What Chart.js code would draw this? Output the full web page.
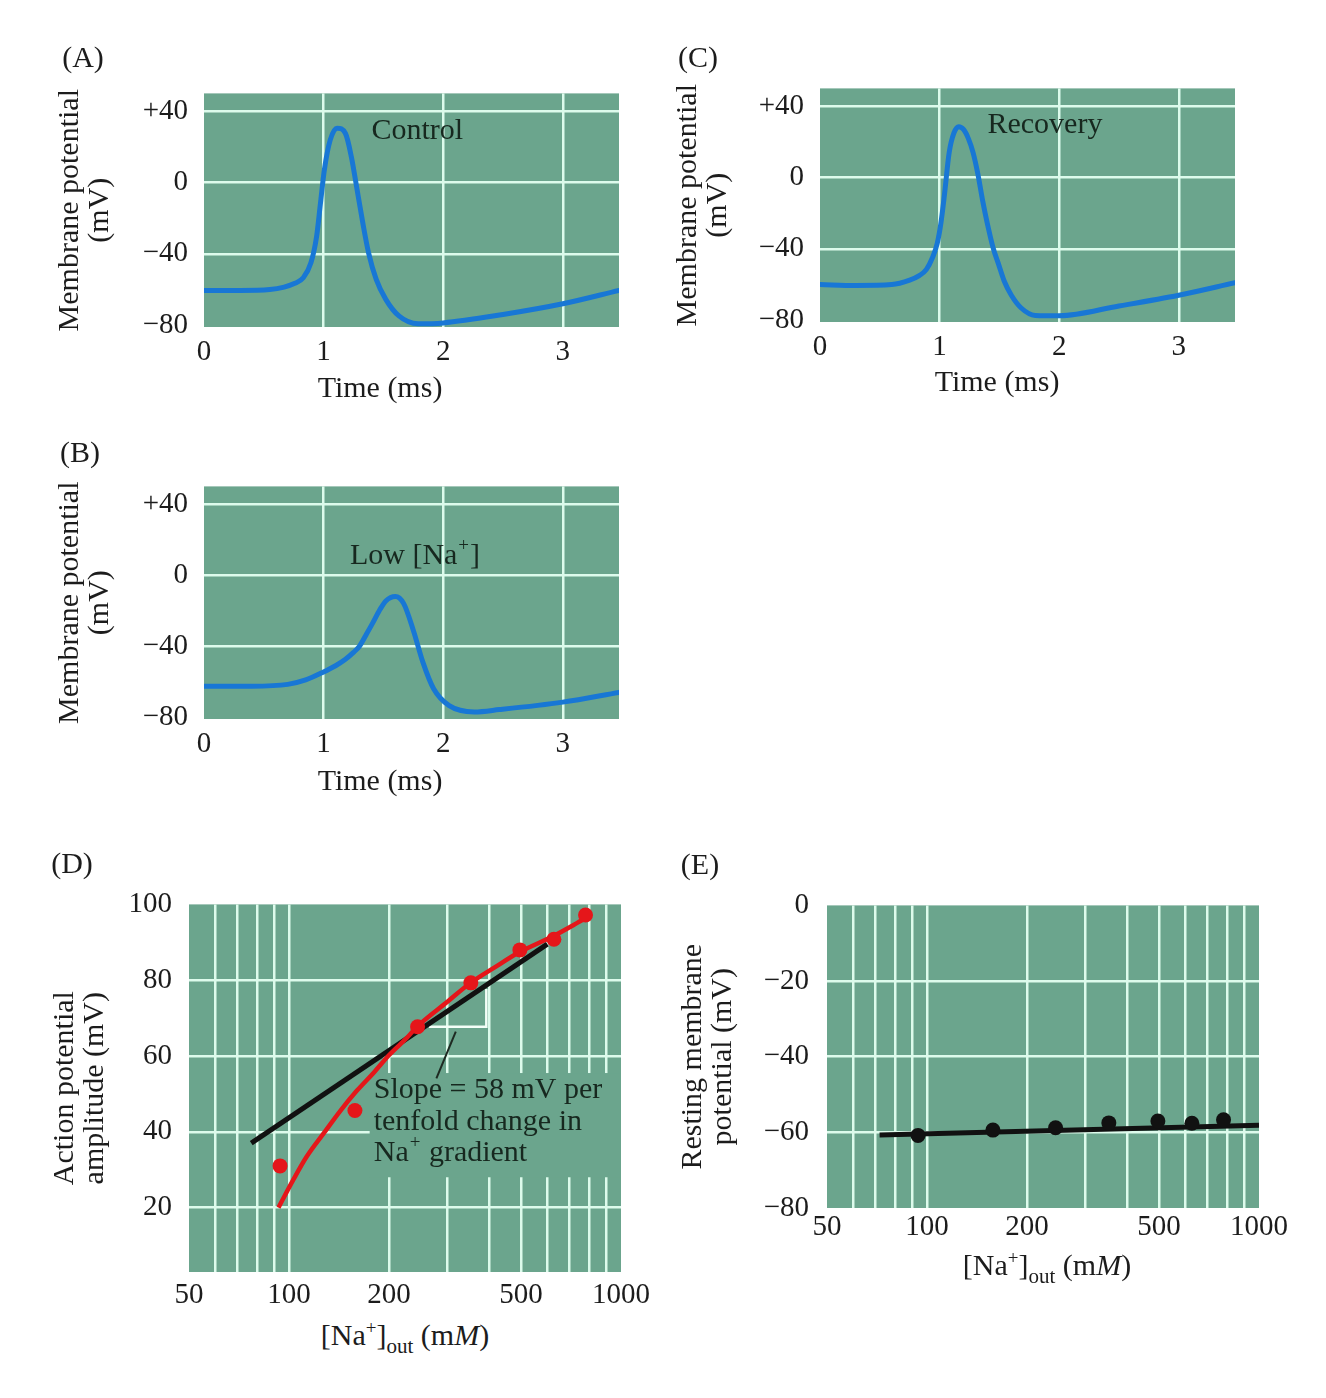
<!DOCTYPE html>
<html><head><meta charset="utf-8">
<script src="https://cdn.jsdelivr.net/npm/chart.js@4.4.1/dist/chart.umd.min.js"></script>
<style>
html,body{margin:0;padding:0;background:#ffffff;}
body{width:1326px;height:1398px;position:relative;overflow:hidden;font-family:"Liberation Serif","Times New Roman",serif;color:#1c1c1c;}
canvas{position:absolute;}
.t{position:absolute;font-size:30px;line-height:1;white-space:nowrap;transform:translate(-50%,-50%);}
.t sup{font-size:19px;vertical-align:0;position:relative;top:-11px;}
.t sub{font-size:21px;vertical-align:0;position:relative;top:8px;}
</style></head><body>

<canvas id="cA" width="610" height="370" style="left:40px;top:60px"></canvas>
<canvas id="cB" width="610" height="370" style="left:40px;top:453px"></canvas>
<canvas id="cC" width="610" height="370" style="left:656px;top:55px"></canvas>
<canvas id="cD" width="620" height="440" style="left:40px;top:870px"></canvas>
<canvas id="cE" width="640" height="380" style="left:660px;top:870px"></canvas>

<div class="t" style="left:83px;top:57px">(A)</div>
<div class="t" style="left:698px;top:57px">(C)</div>
<div class="t" style="left:80px;top:452px">(B)</div>
<div class="t" style="left:72px;top:863px">(D)</div>
<div class="t" style="left:700px;top:864px">(E)</div>

<div class="t" style="left:380px;top:387px">Time (ms)</div>
<div class="t" style="left:380px;top:780px">Time (ms)</div>
<div class="t" style="left:997px;top:381px">Time (ms)</div>
<div class="t" style="left:405px;top:1335px">[Na<sup>+</sup>]<sub>out</sub> (m<i>M</i>)</div>
<div class="t" style="left:1047px;top:1265px">[Na<sup>+</sup>]<sub>out</sub> (m<i>M</i>)</div>

<script>
// ---------------- data ----------------
const timeTicks = [0, 1, 2, 3];
const timeTickLabels = ['0', '1', '2', '3'];
const vmTicks = [-80, -40, 0, 40];
const vmTickLabels = ['\u221280', '\u221240', '0', '+40'];

// (A) Control
const timeControl = [0, 0.3, 0.55, 0.67, 0.76, 0.83, 0.894, 0.942, 0.974, 1.006, 1.055, 1.113, 1.183, 1.232, 1.28, 1.328, 1.376, 1.44, 1.52, 1.63, 1.79, 2.0, 2.5, 3.0, 3.47];
const vmControl   = [-60.5, -60.5, -60, -58.6, -56.5, -53.4, -45, -30, -11.5, 7, 23.8, 30.5, 27.5, 14.5, -4, -22.7, -39.4, -54.3, -65.5, -74.8, -79.2, -78.7, -74, -68, -60.5];

// (B) Low [Na+]
const timeLowNa = [0, 0.4, 0.7, 0.85, 1.0, 1.1, 1.18, 1.25, 1.3, 1.36, 1.41, 1.47, 1.52, 1.6, 1.67, 1.75, 1.83, 1.92, 2.05, 2.26, 2.47, 3.0, 3.47];
const vmLowNa   = [-62.5, -62.5, -61.5, -59, -54.5, -51, -47.5, -43.5, -40, -33, -27, -19.5, -14.5, -12, -16, -31, -49, -64, -73.5, -77, -75.7, -71.5, -66];

// (C) Recovery
const timeRecovery = [0, 0.3, 0.6, 0.75, 0.83, 0.89, 0.94, 0.98, 1.01, 1.04, 1.08, 1.12, 1.16, 1.2, 1.24, 1.28, 1.32, 1.36, 1.40, 1.45, 1.49, 1.54, 1.6, 1.68, 1.8, 2.0, 2.5, 3.0, 3.47];
const vmRecovery   = [-60, -60.5, -60, -57.5, -55, -51.5, -45, -37, -26, -10, 14, 25, 28.5, 27, 22, 14, 2, -13, -26, -40, -48, -58, -66, -73, -77.3, -77.5, -72, -66, -59];

// (D) and (E)
const naGridValues = [50, 60, 70, 80, 90, 100, 200, 300, 400, 500, 600, 700, 800, 900, 1000];
const naLabelValues = [50, 100, 200, 500, 1000];
const ampTicks = [20, 40, 60, 80, 100];
const restTicks = [-80, -60, -40, -20, 0];
const restTickLabels = ['\u221280', '\u221260', '\u221240', '\u221220', '0'];

const naConc = [94, 158, 244, 353, 496, 628, 782];
const apAmplitude = [31, 45.6, 67.7, 79.3, 88, 90.8, 97.2];
const restingPotential = [-60.8, -59.4, -58.8, -57.5, -57, -57.6, -56.7];

const apFitX = [77, 600];
const apFitY = [37, 89.5];
const apCurveX = [93, 103, 113, 127, 143, 160, 180, 201, 226, 243, 300, 351, 420, 492, 624, 770];
const apCurveY = [20, 27.3, 33.4, 39.5, 45.6, 50.8, 55.6, 60.4, 64.7, 67.7, 74.3, 79.2, 83.6, 87.3, 91.6, 96];
const slopeTriX = [264, 393, 393];
const slopeTriY = [67.7, 67.7, 77.7];
const pointerX = [318, 278];
const pointerY = [66.4, 54.1];
const noteBoxX = [175, 1000];
const noteBoxY = [28, 55.5];
const noteAnchorX = 180;
const noteLineY = [50.9, 42.5, 34.4];

const restFitX = [72, 1000];
const restFitY = [-60.7, -58.1];

// ---------------- styles ----------------
const FONT = '"Liberation Serif", "Times New Roman", serif';
const BG = '#6ba58d';
const GRID = '#ddfbec';
const INK = '#1c1c1c';
const NOTE = '#17281f';
const BLUE = '#1877d5';
const RED = '#e5161a';
const BLACK = '#111111';

function pts(xs, ys) { return xs.map((x, i) => ({x: x, y: ys[i]})); }

const bgPlugin = {
  id: 'plotBg',
  beforeDraw(chart) {
    const a = chart.chartArea, ctx = chart.ctx;
    ctx.save();
    ctx.fillStyle = BG;
    ctx.fillRect(a.left, a.top, a.right - a.left, a.bottom - a.top);
    ctx.restore();
  }
};

function drawParts(ctx, parts, px, py) {
  let x = px;
  parts.forEach(p => {
    if (p.sup) {
      ctx.font = '19px ' + FONT;
      ctx.fillText(p.t, x + 1, py - 10);
      x += ctx.measureText(p.t).width + 2;
    } else {
      ctx.font = '30px ' + FONT;
      ctx.fillText(p.t, x, py);
      x += ctx.measureText(p.t).width;
    }
  });
}

function gridColor(edges) {
  return c => (c.tick && edges.includes(c.tick.value)) ? 'rgba(0,0,0,0)' : GRID;
}

function tickFont() { return {family: FONT, size: 29}; }

function makeTimeChart(id, xs, ys, noteParts, noteAt, g) {
  const note = {
    id: 'note',
    afterDatasetsDraw(chart) {
      const ctx = chart.ctx, sx = chart.scales.x, sy = chart.scales.y;
      ctx.save();
      ctx.fillStyle = NOTE;
      ctx.textAlign = 'left';
      ctx.textBaseline = 'middle';
      drawParts(ctx, noteParts, sx.getPixelForValue(noteAt[0]), sy.getPixelForValue(noteAt[1]));
      ctx.restore();
    }
  };
  return new Chart(document.getElementById(id), {
    type: 'line',
    data: {datasets: [{
      data: pts(xs, ys), borderColor: BLUE, borderWidth: 5, pointRadius: 0,
      cubicInterpolationMode: 'monotone', fill: false, borderCapStyle: 'round', borderJoinStyle: 'round'
    }]},
    options: {
      responsive: false, animation: false, events: [],
      layout: {padding: {left: 0, top: g.padTop, right: g.padRight, bottom: 0}},
      plugins: {legend: {display: false}, tooltip: {enabled: false}},
      scales: {
        x: {
          type: 'linear', min: 0, max: 3.47,
          afterBuildTicks: s => { s.ticks = timeTicks.map(v => ({value: v})); },
          afterFit: s => { s.height = g.xH; },
          ticks: {autoSkip: false, maxRotation: 0, padding: 8, color: INK, font: tickFont(),
                  callback: (v, i) => timeTickLabels[i]},
          grid: {drawTicks: false, lineWidth: 2.5, color: gridColor([0])},
          border: {display: false}
        },
        y: {
          type: 'linear', min: -81, max: 50,
          afterBuildTicks: s => { s.ticks = vmTicks.map(v => ({value: v})); },
          afterFit: s => { s.width = g.yW; },
          ticks: {padding: 16, color: INK, font: tickFont(), callback: (v, i) => vmTickLabels[i]},
          grid: {drawTicks: false, lineWidth: 2.5, color: gridColor([-80])},
          border: {display: false},
          title: {display: true, text: ['Membrane potential', '(mV)'], color: INK,
                  font: {family: FONT, size: 30, lineHeight: 1.0}, padding: {top: g.titlePad, bottom: 0}}
        }
      }
    },
    plugins: [bgPlugin, note]
  });
}

makeTimeChart('cA', timeControl, vmControl, [{t: 'Control'}], [1.40, 29],
  {padTop: 33, padRight: 31, yW: 164, xH: 103, titlePad: 15});
makeTimeChart('cB', timeLowNa, vmLowNa, [{t: 'Low [Na'}, {t: '+', sup: true}, {t: ']'}], [1.22, 11],
  {padTop: 33, padRight: 31, yW: 164, xH: 104, titlePad: 15});
makeTimeChart('cC', timeRecovery, vmRecovery, [{t: 'Recovery'}], [1.40, 29.6],
  {padTop: 33, padRight: 31, yW: 164, xH: 103, titlePad: 17});

function naXScale(xH, pad) {
  return {
    type: 'logarithmic', min: 50, max: 1000,
    afterBuildTicks: s => { s.ticks = naGridValues.map(v => ({value: v})); },
    afterFit: s => { s.height = xH; },
    ticks: {autoSkip: false, maxRotation: 0, padding: pad, color: INK, font: tickFont(),
            callback: v => naLabelValues.includes(v) ? String(v) : ''},
    grid: {drawTicks: false, lineWidth: 2.5, color: gridColor([50, 1000])},
    border: {display: false}
  };
}

// (D)
const slopeNote = {
  id: 'slopeNote',
  beforeDatasetsDraw(chart) {
    const ctx = chart.ctx, sx = chart.scales.x, sy = chart.scales.y;
    const x0 = sx.getPixelForValue(noteBoxX[0]), x1 = sx.getPixelForValue(noteBoxX[1]);
    const y0 = sy.getPixelForValue(noteBoxY[1]), y1 = sy.getPixelForValue(noteBoxY[0]);
    ctx.save();
    ctx.fillStyle = BG;
    ctx.fillRect(x0, y0, x1 - x0, y1 - y0);
    ctx.restore();
  },
  afterDatasetsDraw(chart) {
    const ctx = chart.ctx, sx = chart.scales.x, sy = chart.scales.y;
    const px = sx.getPixelForValue(noteAnchorX);
    ctx.save();
    ctx.fillStyle = NOTE;
    ctx.textAlign = 'left';
    ctx.textBaseline = 'middle';
    drawParts(ctx, [{t: 'Slope = 58 mV per'}], px, sy.getPixelForValue(noteLineY[0]));
    drawParts(ctx, [{t: 'tenfold change in'}], px, sy.getPixelForValue(noteLineY[1]));
    drawParts(ctx, [{t: 'Na'}, {t: '+', sup: true}, {t: ' gradient'}], px, sy.getPixelForValue(noteLineY[2]));
    ctx.restore();
  }
};

new Chart(document.getElementById('cD'), {
  type: 'line',
  data: {datasets: [
    {data: pts(naConc, apAmplitude), showLine: false, pointRadius: 7.5, pointBackgroundColor: RED,
     pointBorderWidth: 0, order: 1},
    {data: pts(apCurveX, apCurveY), borderColor: RED, borderWidth: 4.5, pointRadius: 0,
     cubicInterpolationMode: 'monotone', order: 2},
    {data: pts(apFitX, apFitY), borderColor: BLACK, borderWidth: 5, pointRadius: 0, order: 3},
    {data: pts(slopeTriX, slopeTriY), borderColor: '#f4fff8', borderWidth: 2.5, pointRadius: 0, tension: 0, order: 4},
    {data: pts(pointerX, pointerY), borderColor: '#1e2a22', borderWidth: 2, pointRadius: 0, tension: 0, order: 4}
  ]},
  options: {
    responsive: false, animation: false, events: [],
    layout: {padding: {left: 0, top: 33, right: 39, bottom: 0}},
    plugins: {legend: {display: false}, tooltip: {enabled: false}},
    scales: {
      x: naXScale(38, 6),
      y: {
        type: 'linear', min: 3, max: 100,
        afterBuildTicks: s => { s.ticks = ampTicks.map(v => ({value: v})); },
        afterFit: s => { s.width = 149; },
        ticks: {padding: 17, color: INK, font: tickFont(), callback: v => String(v)},
        grid: {drawTicks: false, lineWidth: 2.5, color: gridColor([100])},
        border: {display: false},
        title: {display: true, text: ['Action potential', 'amplitude (mV)'], color: INK,
                font: {family: FONT, size: 30, lineHeight: 1.0}, padding: {top: 10, bottom: 0}}
      }
    }
  },
  plugins: [bgPlugin, slopeNote]
});

// (E)
new Chart(document.getElementById('cE'), {
  type: 'line',
  data: {datasets: [
    {data: pts(naConc, restingPotential), showLine: false, pointRadius: 7.5, pointBackgroundColor: BLACK,
     pointBorderWidth: 0, order: 1},
    {data: pts(restFitX, restFitY), borderColor: BLACK, borderWidth: 5, pointRadius: 0, order: 2}
  ]},
  options: {
    responsive: false, animation: false, events: [],
    layout: {padding: {left: 0, top: 33, right: 41, bottom: 0}},
    plugins: {legend: {display: false}, tooltip: {enabled: false}},
    scales: {
      x: naXScale(42, 2),
      y: {
        type: 'linear', min: -80, max: 0,
        afterBuildTicks: s => { s.ticks = restTicks.map(v => ({value: v})); },
        afterFit: s => { s.width = 167; },
        ticks: {padding: 18, color: INK, font: tickFont(), callback: (v, i) => restTickLabels[i]},
        grid: {drawTicks: false, lineWidth: 2.5, color: gridColor([0, -80])},
        border: {display: false},
        title: {display: true, text: ['Resting membrane', 'potential (mV)'], color: INK,
                font: {family: FONT, size: 30, lineHeight: 1.0}, padding: {top: 18, bottom: 0}}
      }
    }
  },
  plugins: [bgPlugin]
});
</script>
</body></html>
